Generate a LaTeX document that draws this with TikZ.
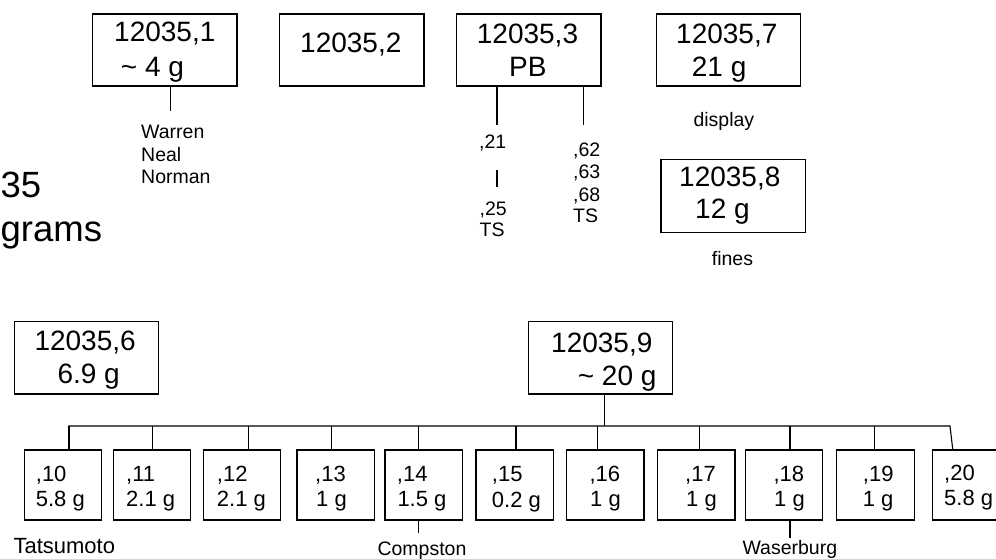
\documentclass[tikz,border=0pt]{standalone}
\usepackage{fontspec}
\setmainfont{Liberation Sans}
\usetikzlibrary{calc}
\tikzset{
  bigbox/.style={draw, line width=1.1pt, minimum width=144.5pt, minimum height=72pt, inner sep=0pt},
  smallbox/.style={draw, line width=1.1pt, minimum width=77.4pt, minimum height=70pt, inner sep=0pt},
  bt/.style={anchor=base west, inner sep=0pt, font=\fontsize{28}{32}\selectfont},
  st/.style={anchor=base west, inner sep=0pt, font=\fontsize{22}{26}\selectfont},
  lt/.style={anchor=base west, inner sep=0pt, font=\fontsize{19.5}{22}\selectfont},
  titletext/.style={anchor=base west, inner sep=0pt, font=\fontsize{36.5}{40}\selectfont},
  conn/.style={line width=1.1pt},
}
\begin{document}
\begin{tikzpicture}[x=1pt,y=-1pt]
\useasboundingbox (0,0) rectangle (996,558);
\clip (0,0) rectangle (996,558);

% title fragment at the left edge
\node[titletext] (t35) at (0.5,197.3) {35};
\node[titletext] (tgrams) at (0.5,241) {grams};

% top boxes
\node[bigbox] (b1) at (164.7,50) {};
\node[bt] (b1a) at (114,41.7) {12035,1};
\node[bt] (b1b) at (120.7,76.7) {\textasciitilde{} 4 g};

\node[bigbox] (b2) at (351.7,50) {};
\node[bt] (b2a) at (300,52.3) {12035,2};

\node[bigbox] (b3) at (528.7,50) {};
\node[bt] (b3a) at (476.7,43.3) {12035,3};
\node[bt] (b3b) at (509,76.7) {PB};

\node[bigbox] (b7) at (728.3,50) {};
\node[bt] (b7a) at (676,43.3) {12035,7};
\node[bt] (b7b) at (691.7,76.7) {21 g};
\node[lt] (disp) at (693.3,126.7) {display};

\node[bigbox, minimum height=73pt] (b8) at (733.2,195.8) {};
\node[bt] (b8a) at (679,186.7) {12035,8};
\node[bt] (b8b) at (695,218.3) {12 g};
\node[lt] (fines) at (711.7,265) {fines};

% b1 users
\coordinate (w1) at (170.7,111);
\draw[conn] (b1.south -| w1) -- (w1);
\node[lt] (warren) at (141,138.3) {Warren};
\node[lt] (neal) at (141,161.3) {Neal};
\node[lt] (norman) at (141,183) {Norman};

% b3 splits
\coordinate (p21) at (497,125);
\draw[conn] (b3.south -| p21) -- (p21);
\node[lt] (n21) at (479,148.3) {,21};
\coordinate (q21) at (497,170);
\coordinate (q25) at (497,186.7);
\draw[conn] (q21) -- (q25);
\node[lt] (n25) at (479.5,215) {,25};
\node[lt] (nts1) at (479.5,236.7) {TS};

\coordinate (p62) at (583.3,125);
\draw[conn] (b3.south -| p62) -- (p62);
\node[lt] (n62) at (573,156.7) {,62};
\node[lt] (n63) at (573,178.7) {,63};
\node[lt] (n68) at (573,201.2) {,68};
\node[lt] (nts2) at (573,222.5) {TS};

% bottom big boxes
\node[bigbox, minimum height=72.3pt] (b6) at (86.3,357.8) {};
\node[bt] (b6a) at (34.3,350) {12035,6};
\node[bt] (b6b) at (57.3,383.3) {6.9 g};

\node[bigbox, minimum height=72.3pt] (b9) at (600.5,357.8) {};
\node[bt] (b9a) at (551,352.3) {12035,9};
\node[bt, anchor=base east] (b9b) at (656.7,385) {\textasciitilde{} 20 g};

% small boxes
\node[smallbox] (s10) at (63,485) {};
\node[smallbox] (s11) at (152,485) {};
\node[smallbox] (s12) at (242.2,485) {};
\node[smallbox] (s13) at (335.7,485) {};
\node[smallbox] (s14) at (423.7,485) {};
\node[smallbox] (s15) at (514.7,485) {};
\node[smallbox] (s16) at (605.3,485) {};
\node[smallbox] (s17) at (696.3,485) {};
\node[smallbox] (s18) at (784.2,485) {};
\node[smallbox] (s19) at (875.5,485) {};
\node[smallbox] (s20) at (971,485) {};

\node[st] (s10a) at (35.7,481) {,10};  \node[st] (s10b) at (35.7,506.5) {5.8 g};
\node[st] (s11a) at (126,481) {,11};   \node[st] (s11b) at (126,506.5) {2.1 g};
\node[st] (s12a) at (216.7,481) {,12}; \node[st] (s12b) at (216.7,506.5) {2.1 g};
\node[st] (s13a) at (315,481) {,13};   \node[st] (s13b) at (316,506.5) {1 g};
\node[st] (s14a) at (396.7,481) {,14}; \node[st] (s14b) at (397.3,506.5) {1.5 g};
\node[st] (s15a) at (491.7,481.5) {,15}; \node[st] (s15b) at (491.7,507) {0.2 g};
\node[st] (s16a) at (589.3,481) {,16}; \node[st] (s16b) at (590,506.5) {1 g};
\node[st] (s17a) at (685,481) {,17};   \node[st] (s17b) at (686,506.5) {1 g};
\node[st] (s18a) at (773.3,481) {,18}; \node[st] (s18b) at (774,506.5) {1 g};
\node[st] (s19a) at (862.7,481) {,19}; \node[st] (s19b) at (862.7,506.5) {1 g};
\node[st] (s20a) at (944,480) {,20};   \node[st] (s20b) at (944,505) {5.8 g};

% bus
\coordinate (busL) at (68.3,426);
\coordinate (busR) at (950,426);
\coordinate (stem) at (604.7,426);
\draw[conn] (b9.south -| stem) -- (stem);
\draw[conn] (busL) -- (busR) -- ($(s20.north west)+(21,0)$);
\foreach \n/\x in {10/69,11/152.7,12/248.3,13/331.7,14/418.3,15/516,16/597.3,17/699.3,18/790,19/874.3}{
  \coordinate (k\n) at (\x,426);
  \draw[conn] (k\n) -- (k\n |- s\n.north);
}

% users below
\node[st] (tats) at (13.3,553.3) {Tatsumoto};
\coordinate (c14) at (418.3,533.3);
\draw[conn] (s14.south -| c14) -- (c14);
\node[lt] (comp) at (377.3,555) {Compston};
\coordinate (c18) at (790,538.3);
\draw[conn] (s18.south -| c18) -- (c18);
\node[lt] (wase) at (742.3,554.5) {Waserburg};
\end{tikzpicture}
\end{document}
